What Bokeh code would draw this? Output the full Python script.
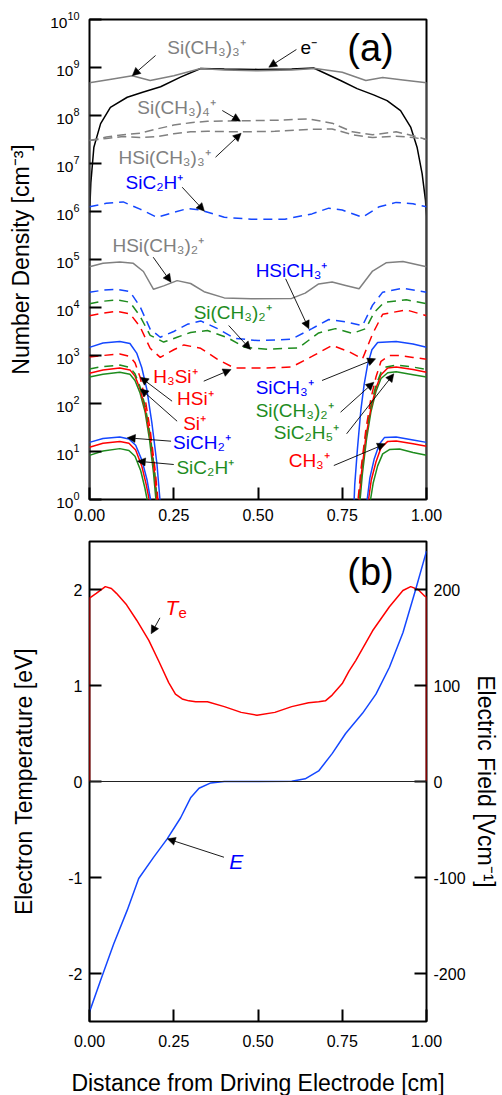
import numpy as np
from bokeh.plotting import figure
from bokeh.layouts import column
from bokeh.models import (FixedTicker, PrintfTickFormatter, LinearAxis, Range1d, Arrow,
                          NormalHead, Span, ColumnDataSource, LogTickFormatter)
from bokeh.core.properties import value
from bokeh.embed import file_html
from bokeh.resources import INLINE

FONT = "Liberation Sans"
RED = "#ff0000"
BLUE = "#1447ff"
GREEN = "#1e8c1e"
GRAY = "#808080"
BLACK = "#000000"
TBLUE = "#0000ff"

# ---------------- panel (a) data: x [cm], log10(number density [cm^-3]) ----------------
x_sich3_3 = [0.0, 0.0, 0.06, 0.127, 0.18, 0.25, 0.33, 0.40, 0.50, 0.60, 0.67, 0.75, 0.82, 0.87, 0.93, 1.0, 1.0]
lg_sich3_3 = [-1, 8.68, 8.75, 8.83, 8.73, 8.83, 8.98, 8.95, 8.93, 8.95, 8.98, 8.90, 8.73, 8.79, 8.74, 8.68, -1]

x_e = [0.0, 0.0, 0.004, 0.013, 0.033, 0.062, 0.112, 0.16, 0.211, 0.27, 0.33, 0.40, 0.50, 0.60, 0.665,
       0.745, 0.794, 0.843, 0.883, 0.923, 0.953, 0.972, 0.987, 0.997, 1.0, 1.0]
lg_e = [-1, 5.9, 6.6, 7.34, 7.83, 8.17, 8.38, 8.49, 8.60, 8.80, 8.98, 8.97, 8.96, 8.97, 8.99,
        8.73, 8.56, 8.43, 8.31, 8.10, 7.76, 7.34, 6.79, 6.23, 5.9, -1]

x_sich3_4 = [0.0, 0.05, 0.10, 0.15, 0.20, 0.25, 0.30, 0.35, 0.45, 0.55, 0.65, 0.72, 0.78, 0.84, 0.91, 0.96, 1.0]
lg_sich3_4 = [7.48, 7.55, 7.60, 7.63, 7.72, 7.80, 7.85, 7.88, 7.89, 7.90, 7.93, 7.84, 7.66, 7.60, 7.66, 7.58, 7.50]

x_hsich3_3 = [0.0, 0.05, 0.10, 0.15, 0.20, 0.25, 0.30, 0.35, 0.45, 0.55, 0.65, 0.72, 0.78, 0.84, 0.91, 0.96, 1.0]
lg_hsich3_3 = [7.48, 7.52, 7.56, 7.54, 7.56, 7.62, 7.66, 7.67, 7.66, 7.67, 7.71, 7.72, 7.60, 7.54, 7.57, 7.54, 7.50]

x_sic2h_b = [0.0, 0.05, 0.10, 0.15, 0.20, 0.25, 0.29, 0.33, 0.40, 0.48, 0.58, 0.66, 0.71, 0.75, 0.81, 0.86, 0.91, 0.96, 1.0]
lg_sic2h_b = [6.10, 6.17, 6.20, 6.05, 5.88, 5.98, 6.06, 6.03, 5.88, 5.84, 5.84, 5.95, 6.07, 6.03, 5.88, 6.10, 6.19, 6.16, 6.10]

x_hsich3_2 = [0.0, 0.04, 0.09, 0.13, 0.16, 0.19, 0.22, 0.26, 0.30, 0.34, 0.40, 0.48, 0.60, 0.64, 0.68,
              0.72, 0.76, 0.80, 0.84, 0.88, 0.93, 1.0]
lg_hsich3_2 = [4.85, 4.92, 4.95, 4.92, 4.75, 4.38, 4.45, 4.56, 4.50, 4.33, 4.20, 4.18, 4.19, 4.30, 4.49,
               4.53, 4.46, 4.39, 4.76, 4.93, 4.96, 4.85]

x_hsich3 = [0.0, 0.04, 0.08, 0.12, 0.15, 0.18, 0.21, 0.25, 0.29, 0.33, 0.38, 0.43, 0.50, 0.60, 0.66,
            0.71, 0.76, 0.81, 0.84, 0.87, 0.93, 1.0]
lg_hsich3 = [4.32, 4.36, 4.38, 4.33, 4.02, 3.55, 3.38, 3.50, 3.65, 3.72, 3.56, 3.36, 3.31, 3.34, 3.56,
             3.75, 3.70, 3.62, 4.05, 4.32, 4.40, 4.32]

x_sich3_2_mid = [0.0, 0.04, 0.08, 0.12, 0.15, 0.18, 0.22, 0.26, 0.30, 0.35, 0.41, 0.46, 0.53, 0.62, 0.68,
                 0.73, 0.78, 0.82, 0.845, 0.875, 0.94, 1.0]
lg_sich3_2_mid = [4.08, 4.13, 4.16, 4.11, 3.82, 3.42, 3.28, 3.38, 3.48, 3.52, 3.37, 3.17, 3.13, 3.16, 3.47,
                  3.56, 3.46, 3.56, 3.90, 4.11, 4.16, 4.08]

x_h3si = [0.0, 0.04, 0.08, 0.12, 0.15, 0.18, 0.21, 0.25, 0.28, 0.33, 0.38, 0.43, 0.52, 0.60, 0.66,
          0.72, 0.77, 0.81, 0.84, 0.87, 0.94, 1.0]
lg_h3si = [3.83, 3.88, 3.92, 3.87, 3.60, 3.15, 2.96, 3.12, 3.22, 3.15, 2.92, 2.74, 2.74, 2.76, 2.98,
           3.21, 3.08, 2.93, 3.45, 3.86, 3.95, 3.83]

# species confined near the electrodes (left part, right part)
x_sich3_L = [0.0, 0.04, 0.09, 0.12, 0.14, 0.155, 0.17, 0.185, 0.20, 0.209, 0.215]
lg_sich3_L = [3.17, 3.26, 3.29, 3.25, 3.05, 2.75, 2.30, 1.60, 0.75, 0.0, -0.6]
x_sich3_R = [0.782, 0.787, 0.795, 0.805, 0.815, 0.825, 0.838, 0.855, 0.91, 0.96, 1.0]
lg_sich3_R = [-0.6, 0.3, 1.05, 1.85, 2.40, 2.80, 3.12, 3.27, 3.29, 3.24, 3.17]

x_hsi_L = [0.0, 0.04, 0.09, 0.12, 0.135, 0.15, 0.165, 0.18, 0.195, 0.203, 0.21]
lg_hsi_L = [2.97, 3.00, 3.03, 2.98, 2.85, 2.55, 2.10, 1.45, 0.6, 0.0, -0.6]
x_hsi_R = [0.79, 0.797, 0.805, 0.82, 0.835, 0.85, 0.865, 0.89, 0.92, 0.96, 1.0]
lg_hsi_R = [-0.6, 0.0, 0.6, 1.45, 2.10, 2.55, 2.88, 3.00, 3.00, 2.96, 2.92]

x_sich3_2w_L = [0.0, 0.04, 0.09, 0.12, 0.135, 0.15, 0.165, 0.18, 0.193, 0.2, 0.207]
lg_sich3_2w_L = [2.72, 2.77, 2.80, 2.75, 2.62, 2.35, 1.95, 1.35, 0.6, 0.0, -0.6]
x_sich3_2w_R = [0.793, 0.8, 0.807, 0.82, 0.835, 0.85, 0.865, 0.88, 0.91, 0.96, 1.0]
lg_sich3_2w_R = [-0.6, 0.0, 0.6, 1.35, 1.95, 2.38, 2.65, 2.76, 2.80, 2.76, 2.71]

x_si_L = [0.0, 0.04, 0.09, 0.12, 0.135, 0.15, 0.165, 0.18, 0.193, 0.2, 0.207]
lg_si_L = [2.63, 2.70, 2.74, 2.70, 2.57, 2.30, 1.90, 1.30, 0.55, 0.0, -0.6]
x_si_R = [0.793, 0.8, 0.807, 0.82, 0.835, 0.85, 0.865, 0.885, 0.91, 0.96, 1.0]
lg_si_R = [-0.6, 0.0, 0.55, 1.30, 1.90, 2.32, 2.60, 2.74, 2.76, 2.71, 2.65]

x_sic2h5_L = [0.0, 0.04, 0.09, 0.12, 0.135, 0.15, 0.165, 0.178, 0.19, 0.197, 0.204]
lg_sic2h5_L = [2.55, 2.61, 2.65, 2.61, 2.48, 2.22, 1.82, 1.25, 0.55, 0.0, -0.6]
x_sic2h5_R = [0.796, 0.803, 0.81, 0.822, 0.835, 0.85, 0.865, 0.885, 0.91, 0.96, 1.0]
lg_sic2h5_R = [-0.6, 0.0, 0.55, 1.25, 1.82, 2.25, 2.52, 2.64, 2.66, 2.60, 2.55]

x_sich2_L = [0.0, 0.04, 0.09, 0.117, 0.137, 0.156, 0.171, 0.181, 0.187]
lg_sich2_L = [1.19, 1.27, 1.30, 1.26, 1.13, 0.81, 0.40, 0.0, -0.4]
x_sich2_R = [0.818, 0.824, 0.832, 0.845, 0.86, 0.875, 0.91, 0.96, 1.0]
lg_sich2_R = [-0.4, 0.0, 0.45, 0.85, 1.15, 1.29, 1.30, 1.24, 1.19]

x_ch3_L = [0.0, 0.04, 0.09, 0.117, 0.137, 0.155, 0.168, 0.177, 0.183]
lg_ch3_L = [1.09, 1.17, 1.21, 1.17, 1.03, 0.70, 0.32, 0.0, -0.4]
x_ch3_R = [0.822, 0.828, 0.836, 0.85, 0.865, 0.885, 0.91, 0.96, 1.0]
lg_ch3_R = [-0.4, 0.0, 0.40, 0.78, 1.08, 1.21, 1.22, 1.16, 1.11]

x_sic2h_g_L = [0.0, 0.04, 0.09, 0.117, 0.135, 0.152, 0.164, 0.171, 0.177]
lg_sic2h_g_L = [0.92, 1.01, 1.06, 1.02, 0.90, 0.60, 0.25, 0.0, -0.4]
x_sic2h_g_R = [0.828, 0.834, 0.842, 0.855, 0.87, 0.89, 0.92, 0.96, 1.0]
lg_sic2h_g_R = [-0.4, 0.0, 0.35, 0.70, 0.95, 1.04, 1.05, 0.98, 0.92]

# ---------------- panel (b) data ----------------
x_te = [0.0, 0.0, 0.02, 0.047, 0.065, 0.08, 0.11, 0.14, 0.176, 0.206, 0.235, 0.255, 0.275, 0.295, 0.315,
        0.35, 0.40, 0.45, 0.497, 0.55, 0.60, 0.65, 0.68, 0.70, 0.72, 0.75, 0.77, 0.79, 0.84, 0.89, 0.93,
        0.953, 0.975, 0.995, 1.0, 1.0]
te_ev = [0.0, 1.91, 1.96, 2.03, 2.01, 1.96, 1.84, 1.68, 1.47, 1.25, 1.03, 0.91, 0.86, 0.84, 0.83,
         0.83, 0.78, 0.72, 0.69, 0.72, 0.78, 0.82, 0.83, 0.84, 0.90, 1.02, 1.15, 1.26, 1.57, 1.82, 1.99,
         2.03, 2.00, 1.93, 1.92, 0.0]

x_field = [0.0, 0.033, 0.072, 0.112, 0.146, 0.19, 0.23, 0.27, 0.30, 0.325, 0.36, 0.40, 0.50, 0.60,
           0.64, 0.68, 0.72, 0.76, 0.81, 0.85, 0.89, 0.93, 0.967, 1.0]
e_field = [-240, -207, -169, -134, -101, -79, -60, -38, -17, -7, -1.5, 0, 0, 0.2,
           2.8, 11, 29, 50, 71, 91, 119, 155, 199, 240]

x_ticks = [0.0, 0.25, 0.5, 0.75, 1.0]
dens_ticks = [10.0 ** k for k in range(0, 11)]
te_ticks = [-2, -1, 0, 1, 2]
e_ticks = [-200, -100, 0, 100, 200]


def d(lg):
    return list(10.0 ** np.array(lg, dtype=float))


def style_axis(ax, tick_std, lab_std, tick_size="16px"):
    ax.axis_line_color = None
    ax.major_tick_in = 12
    ax.major_tick_out = 0
    ax.major_tick_line_width = 2
    ax.major_tick_line_color = BLACK
    ax.minor_tick_line_color = None
    ax.major_label_text_font = FONT
    ax.major_label_text_font_size = tick_size
    ax.major_label_text_color = BLACK
    ax.major_label_standoff = tick_std
    ax.axis_label_text_font = FONT
    ax.axis_label_text_font_size = "23px"
    ax.axis_label_text_font_style = "normal"
    ax.axis_label_text_color = BLACK
    ax.axis_label_standoff = lab_std


def base_fig(yr, **kw):
    p = figure(output_backend="svg", toolbar_location=None, frame_width=337, frame_height=480,
               x_range=Range1d(0, 1), y_range=yr, min_border_left=89, min_border_right=76, **kw)
    p.outline_line_color = BLACK
    p.outline_line_width = 2
    p.outline_line_alpha = 1.0
    p.xgrid.visible = False
    p.ygrid.visible = False
    p.background_fill_color = "white"
    p.border_fill_color = "white"
    return p


# ================= panel (a) =================
pa = base_fig(Range1d(1, 1e10), y_axis_type="log", min_border_top=19, min_border_bottom=28)
pa.xaxis.ticker = FixedTicker(ticks=x_ticks)
pa.xaxis.formatter = PrintfTickFormatter(format="%.2f")
pa.yaxis.ticker = FixedTicker(ticks=dens_ticks)
pa.yaxis.formatter = LogTickFormatter()
pa.yaxis.axis_label = "Number Density [cm⁻³]"
style_axis(pa.xaxis[0], 9, 5)
style_axis(pa.yaxis[0], 10, 13, "15.5px")

LW = 1.5
pa.line(x_e, d(lg_e), line_color=BLACK, line_width=LW)
pa.line(x_sich3_3, d(lg_sich3_3), line_color=GRAY, line_width=LW)
pa.line(x_sich3_4, d(lg_sich3_4), line_color=GRAY, line_width=LW, line_dash="9 5")
pa.line(x_hsich3_3, d(lg_hsich3_3), line_color=GRAY, line_width=LW, line_dash="9 5")
pa.line(x_sic2h_b, d(lg_sic2h_b), line_color=BLUE, line_width=LW, line_dash="9 6")
pa.line(x_hsich3_2, d(lg_hsich3_2), line_color=GRAY, line_width=LW)
pa.line(x_hsich3, d(lg_hsich3), line_color=BLUE, line_width=LW, line_dash="9 6")
pa.line(x_sich3_2_mid, d(lg_sich3_2_mid), line_color=GREEN, line_width=LW, line_dash="9 6")
pa.line(x_h3si, d(lg_h3si), line_color=RED, line_width=LW, line_dash="9 6")

for xs, ys, col, dash in [
    (x_sic2h5_L, lg_sic2h5_L, GREEN, "solid"), (x_sic2h5_R, lg_sic2h5_R, GREEN, "solid"),
    (x_si_L, lg_si_L, RED, "solid"), (x_si_R, lg_si_R, RED, "solid"),
    (x_sich3_2w_L, lg_sich3_2w_L, GREEN, "9 6"), (x_sich3_2w_R, lg_sich3_2w_R, GREEN, "9 6"),
    (x_hsi_L, lg_hsi_L, RED, "9 6"), (x_hsi_R, lg_hsi_R, RED, "9 6"),
    (x_sich3_L, lg_sich3_L, BLUE, "solid"), (x_sich3_R, lg_sich3_R, BLUE, "solid"),
    (x_sic2h_g_L, lg_sic2h_g_L, GREEN, "solid"), (x_sic2h_g_R, lg_sic2h_g_R, GREEN, "solid"),
    (x_ch3_L, lg_ch3_L, RED, "solid"), (x_ch3_R, lg_ch3_R, RED, "solid"),
    (x_sich2_L, lg_sich2_L, BLUE, "solid"), (x_sich2_R, lg_sich2_R, BLUE, "solid"),
]:
    pa.line(xs, d(ys), line_color=col, line_width=LW, line_dash=dash)

# labels (a)
lab_a_text = ["Si(CH₃)₃⁺", "e⁻", "Si(CH₃)₄⁺", "HSi(CH₃)₃⁺", "SiC₂H⁺", "HSi(CH₃)₂⁺", "HSiCH₃⁺",
              "Si(CH₃)₂⁺", "H₃Si⁺", "HSi⁺", "Si⁺", "SiCH₂⁺", "SiC₂H⁺", "SiCH₃⁺", "Si(CH₃)₂⁺",
              "SiC₂H₅⁺", "CH₃⁺"]
lab_a_color = [GRAY, BLACK, GRAY, GRAY, TBLUE, GRAY, TBLUE, GREEN, RED, RED, RED, TBLUE, GREEN,
               TBLUE, GREEN, GREEN, RED]
lab_a_x = [0.231, 0.626, 0.142, 0.086, 0.107, 0.068, 0.493, 0.309, 0.189, 0.260, 0.278, 0.248,
           0.258, 0.493, 0.493, 0.547, 0.591]
lab_a_lg = [9.417, 9.417, 8.167, 7.125, 6.604, 5.292, 4.771, 3.902, 2.5625, 2.104, 1.583, 1.194,
            0.673, 2.340, 1.854, 1.402, 0.8125]
pa.text(x=lab_a_x, y=d(lab_a_lg), text=lab_a_text, text_color=lab_a_color,
        text_font=value(FONT), text_font_size="19px", text_align="left", text_baseline="middle")
pa.text(x=[0.765], y=d([9.396]), text=["(a)"], text_color=BLACK, text_font=value(FONT),
        text_font_size="38px", text_align="left", text_baseline="middle")

arr_a = dict(
    x0=[0.196, 0.614, 0.394, 0.374, 0.275, 0.189, 0.582, 0.413, 0.339, 0.245, 0.260, 0.242, 0.250,
        0.690, 0.745, 0.763, 0.725],
    y0=d([9.25, 9.375, 8.104, 7.131, 6.506, 5.048, 4.598, 3.625, 2.465, 2.048, 1.631, 1.215, 0.729,
          2.479, 1.819, 1.369, 0.708]),
    x1=[0.127, 0.532, 0.448, 0.45, 0.341, 0.242, 0.651, 0.478, 0.420, 0.151, 0.151, 0.112, 0.142,
        0.849, 0.844, 0.903, 0.878],
    y1=d([8.83, 9.006, 7.881, 7.631, 6.006, 4.527, 3.556, 3.125, 2.708, 2.548, 2.306, 1.285, 0.798,
          2.931, 2.444, 2.619, 1.160]),
)
pa.add_layout(Arrow(source=ColumnDataSource(arr_a), x_start="x0", y_start="y0", x_end="x1",
                    y_end="y1", line_width=0.9, line_color=BLACK,
                    end=NormalHead(size=8, fill_color=BLACK, line_color=BLACK, line_width=0.5)))

# ================= panel (b) =================
pb = base_fig(Range1d(-2.5, 2.5), min_border_top=14, min_border_bottom=74)
pb.extra_y_ranges = {"E": Range1d(-250, 250)}
pb.xaxis.ticker = FixedTicker(ticks=x_ticks)
pb.xaxis.formatter = PrintfTickFormatter(format="%.2f")
pb.xaxis.axis_label = "Distance from Driving Electrode [cm]"
pb.yaxis.ticker = FixedTicker(ticks=te_ticks)
pb.yaxis.formatter = PrintfTickFormatter(format="%d")
pb.yaxis.axis_label = "Electron Temperature [eV]"
style_axis(pb.xaxis[0], 13, 20)
style_axis(pb.yaxis[0], 7, 28)
ax_r = LinearAxis(y_range_name="E", axis_label="Electric Field [Vcm⁻¹]",
                  ticker=FixedTicker(ticks=e_ticks), formatter=PrintfTickFormatter(format="%d"))
style_axis(ax_r, 7, 4)
pb.add_layout(ax_r, "right")

pb.add_layout(Span(location=0, dimension="width", line_color="#222222", line_width=1))
pb.line(x_te, te_ev, line_color=RED, line_width=LW)
pb.line(x_field, e_field, line_color=BLUE, line_width=LW, y_range_name="E")

pb.text(x=[0.765], y=[2.18], text=["(b)"], text_color=BLACK, text_font=value(FONT),
        text_font_size="38px", text_align="left", text_baseline="middle")
pb.text(x=[0.2255], y=[1.816], text=["T"], text_color=RED, text_font=value(FONT),
        text_font_size="21px", text_font_style="italic", text_align="left", text_baseline="middle")
pb.text(x=[0.2255], y=[1.816], text=["e"], text_color=RED, text_font=value(FONT), x_offset=13,
        y_offset=6, text_font_size="15px", text_align="left", text_baseline="middle")
pb.text(x=[0.415], y=[-0.833], text=["E"], text_color=TBLUE, text_font=value(FONT),
        text_font_size="21px", text_font_style="italic", text_align="left", text_baseline="middle")
arr_b = dict(x0=[0.209, 0.399], y0=[1.705, -0.789], x1=[0.183, 0.231], y1=[1.539, -0.597])
pb.add_layout(Arrow(source=ColumnDataSource(arr_b), x_start="x0", y_start="y0", x_end="x1",
                    y_end="y1", line_width=0.9, line_color=BLACK,
                    end=NormalHead(size=8, fill_color=BLACK, line_color=BLACK, line_width=0.5)))

layout = column(pa, pb, spacing=0)
open("out.html", "w").write(file_html(layout, INLINE))
